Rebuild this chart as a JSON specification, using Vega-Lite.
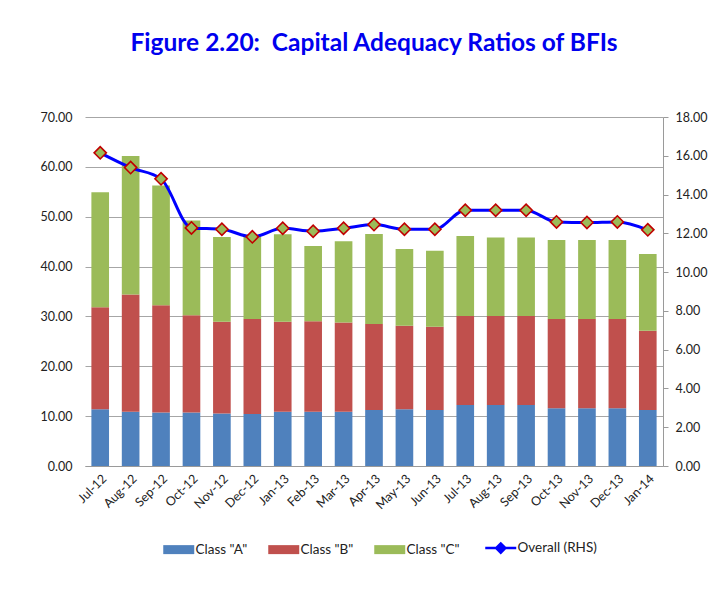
{
  "$schema": "https://vega.github.io/schema/vega-lite/v6.json",
  "width": 578,
  "height": 349,
  "autosize": {"type": "none"},
  "padding": {"left": 85, "top": 117, "right": 65, "bottom": 125},
  "background": "white",
  "title": {
    "text": "Figure 2.20:\u00a0 Capital Adequacy Ratios of BFIs",
    "font": "Lato",
    "fontSize": 24.5,
    "fontWeight": "bold",
    "color": "#0000EE",
    "anchor": "middle",
    "frame": "group",
    "offset": 55
  },
  "datasets": {
    "bars": [
      {"m": "Jul-12", "cls": "Class \"A\"", "o": 1, "v": 11.36},
      {"m": "Jul-12", "cls": "Class \"B\"", "o": 2, "v": 20.50},
      {"m": "Jul-12", "cls": "Class \"C\"", "o": 3, "v": 23.04},
      {"m": "Aug-12", "cls": "Class \"A\"", "o": 1, "v": 10.90},
      {"m": "Aug-12", "cls": "Class \"B\"", "o": 2, "v": 23.50},
      {"m": "Aug-12", "cls": "Class \"C\"", "o": 3, "v": 27.80},
      {"m": "Sep-12", "cls": "Class \"A\"", "o": 1, "v": 10.75},
      {"m": "Sep-12", "cls": "Class \"B\"", "o": 2, "v": 21.50},
      {"m": "Sep-12", "cls": "Class \"C\"", "o": 3, "v": 24.00},
      {"m": "Oct-12", "cls": "Class \"A\"", "o": 1, "v": 10.75},
      {"m": "Oct-12", "cls": "Class \"B\"", "o": 2, "v": 19.50},
      {"m": "Oct-12", "cls": "Class \"C\"", "o": 3, "v": 19.00},
      {"m": "Nov-12", "cls": "Class \"A\"", "o": 1, "v": 10.55},
      {"m": "Nov-12", "cls": "Class \"B\"", "o": 2, "v": 18.40},
      {"m": "Nov-12", "cls": "Class \"C\"", "o": 3, "v": 17.00},
      {"m": "Dec-12", "cls": "Class \"A\"", "o": 1, "v": 10.42},
      {"m": "Dec-12", "cls": "Class \"B\"", "o": 2, "v": 19.05},
      {"m": "Dec-12", "cls": "Class \"C\"", "o": 3, "v": 16.60},
      {"m": "Jan-13", "cls": "Class \"A\"", "o": 1, "v": 10.90},
      {"m": "Jan-13", "cls": "Class \"B\"", "o": 2, "v": 18.05},
      {"m": "Jan-13", "cls": "Class \"C\"", "o": 3, "v": 17.55},
      {"m": "Feb-13", "cls": "Class \"A\"", "o": 1, "v": 10.90},
      {"m": "Feb-13", "cls": "Class \"B\"", "o": 2, "v": 18.15},
      {"m": "Feb-13", "cls": "Class \"C\"", "o": 3, "v": 15.10},
      {"m": "Mar-13", "cls": "Class \"A\"", "o": 1, "v": 10.90},
      {"m": "Mar-13", "cls": "Class \"B\"", "o": 2, "v": 17.90},
      {"m": "Mar-13", "cls": "Class \"C\"", "o": 3, "v": 16.30},
      {"m": "Apr-13", "cls": "Class \"A\"", "o": 1, "v": 11.22},
      {"m": "Apr-13", "cls": "Class \"B\"", "o": 2, "v": 17.25},
      {"m": "Apr-13", "cls": "Class \"C\"", "o": 3, "v": 18.05},
      {"m": "May-13", "cls": "Class \"A\"", "o": 1, "v": 11.36},
      {"m": "May-13", "cls": "Class \"B\"", "o": 2, "v": 16.75},
      {"m": "May-13", "cls": "Class \"C\"", "o": 3, "v": 15.40},
      {"m": "Jun-13", "cls": "Class \"A\"", "o": 1, "v": 11.22},
      {"m": "Jun-13", "cls": "Class \"B\"", "o": 2, "v": 16.70},
      {"m": "Jun-13", "cls": "Class \"C\"", "o": 3, "v": 15.25},
      {"m": "Jul-13", "cls": "Class \"A\"", "o": 1, "v": 12.22},
      {"m": "Jul-13", "cls": "Class \"B\"", "o": 2, "v": 17.85},
      {"m": "Jul-13", "cls": "Class \"C\"", "o": 3, "v": 16.05},
      {"m": "Aug-13", "cls": "Class \"A\"", "o": 1, "v": 12.22},
      {"m": "Aug-13", "cls": "Class \"B\"", "o": 2, "v": 17.85},
      {"m": "Aug-13", "cls": "Class \"C\"", "o": 3, "v": 15.75},
      {"m": "Sep-13", "cls": "Class \"A\"", "o": 1, "v": 12.22},
      {"m": "Sep-13", "cls": "Class \"B\"", "o": 2, "v": 17.85},
      {"m": "Sep-13", "cls": "Class \"C\"", "o": 3, "v": 15.75},
      {"m": "Oct-13", "cls": "Class \"A\"", "o": 1, "v": 11.56},
      {"m": "Oct-13", "cls": "Class \"B\"", "o": 2, "v": 17.90},
      {"m": "Oct-13", "cls": "Class \"C\"", "o": 3, "v": 15.85},
      {"m": "Nov-13", "cls": "Class \"A\"", "o": 1, "v": 11.56},
      {"m": "Nov-13", "cls": "Class \"B\"", "o": 2, "v": 17.90},
      {"m": "Nov-13", "cls": "Class \"C\"", "o": 3, "v": 15.85},
      {"m": "Dec-13", "cls": "Class \"A\"", "o": 1, "v": 11.56},
      {"m": "Dec-13", "cls": "Class \"B\"", "o": 2, "v": 17.90},
      {"m": "Dec-13", "cls": "Class \"C\"", "o": 3, "v": 15.85},
      {"m": "Jan-14", "cls": "Class \"A\"", "o": 1, "v": 11.22},
      {"m": "Jan-14", "cls": "Class \"B\"", "o": 2, "v": 15.90},
      {"m": "Jan-14", "cls": "Class \"C\"", "o": 3, "v": 15.40}
    ],
    "overall": [
      {"m": "Jul-12", "v": 16.15},
      {"m": "Aug-12", "v": 15.39},
      {"m": "Sep-12", "v": 14.81},
      {"m": "Oct-12", "v": 12.28},
      {"m": "Nov-12", "v": 12.21},
      {"m": "Dec-12", "v": 11.82},
      {"m": "Jan-13", "v": 12.26},
      {"m": "Feb-13", "v": 12.11},
      {"m": "Mar-13", "v": 12.26},
      {"m": "Apr-13", "v": 12.45},
      {"m": "May-13", "v": 12.21},
      {"m": "Jun-13", "v": 12.21},
      {"m": "Jul-13", "v": 13.19},
      {"m": "Aug-13", "v": 13.19},
      {"m": "Sep-13", "v": 13.19},
      {"m": "Oct-13", "v": 12.59},
      {"m": "Nov-13", "v": 12.56},
      {"m": "Dec-13", "v": 12.59},
      {"m": "Jan-14", "v": 12.18}
    ]
  },
  "encoding": {
    "x": {
      "field": "m",
      "type": "ordinal",
      "sort": null,
      "title": null,
      "scale": {"paddingInner": 0.42, "paddingOuter": 0.21},
      "axis": {
        "labelAngle": -45,
        "labelFont": "Lato",
        "labelFontSize": 12.5,
        "labelColor": "#222222",
        "domainColor": "#9a9a9a",
        "ticks": false,
        "labelPadding": 6
      }
    }
  },
  "layer": [
    {
      "data": {"name": "bars"},
      "mark": {"type": "bar"},
      "encoding": {
        "y": {
          "field": "v",
          "type": "quantitative",
          "stack": "zero",
          "title": null,
          "scale": {"domain": [0, 70], "nice": false},
          "axis": {
            "values": [0, 10, 20, 30, 40, 50, 60, 70],
            "format": ".2f",
            "domain": false,
            "ticks": false,
            "grid": true,
            "gridColor": "#a6a6a6",
            "labelOverlap": false,
            "labelFont": "Lato",
            "labelFontSize": 12.5,
            "labelColor": "#222222",
            "labelPadding": 13
          }
        },
        "order": {"field": "o", "type": "quantitative"},
        "color": {
          "field": "cls",
          "type": "nominal",
          "scale": {
            "domain": ["Class \"A\"", "Class \"B\"", "Class \"C\"", "Overall (RHS)"],
            "range": ["#4F81BD", "#C0504D", "#9BBB59", "#0000FF"]
          },
          "legend": {
            "orient": "none",
            "legendX": 87,
            "legendY": 424,
            "direction": "horizontal",
            "title": null,
            "symbolSize": 961,
            "symbolType": "M-1,-0.29H1V0.29H-1Z",
            "labelFont": "Lato",
            "labelFontSize": 13.5,
            "labelColor": "#222222",
            "labelOffset": 10,
            "columnPadding": 20,
            "encode": {
              "symbols": {
                "update": {
                  "shape": {"signal": "datum.value === 'Overall (RHS)' ? 'M-1,0H1M-0.3,0L0,-0.3L0.3,0L0,0.3Z' : 'M-1,-0.29H1V0.29H-1Z'"},
                  "strokeWidth": {"signal": "datum.value === 'Overall (RHS)' ? 2.5 : 0"},
                  "stroke": {"signal": "datum.value === 'Overall (RHS)' ? '#0000FF' : 'transparent'"},
                  "fill": {"signal": "datum.value === 'Overall (RHS)' ? '#9BBB59' : scale('color', datum.value)"}
                }
              }
            }
          }
        }
      }
    },
    {
      "data": {"name": "overall"},
      "encoding": {
        "y": {
          "field": "v",
          "type": "quantitative",
          "title": null,
          "scale": {"domain": [0, 18], "nice": false},
          "axis": {
            "orient": "right",
            "values": [0, 2, 4, 6, 8, 10, 12, 14, 16, 18],
            "format": ".2f",
            "grid": false,
            "domain": true,
            "domainColor": "#9a9a9a",
            "ticks": true,
            "tickColor": "#9a9a9a",
            "tickSize": 5,
            "labelOverlap": false,
            "labelFont": "Lato",
            "labelFontSize": 12.5,
            "labelColor": "#222222",
            "labelPadding": 7
          }
        }
      },
      "layer": [
        {
          "mark": {"type": "line", "strokeWidth": 3, "interpolate": "monotone"},
          "encoding": {
            "color": {"datum": "Overall (RHS)"}
          }
        },
        {
          "mark": {"type": "point", "shape": "diamond", "filled": true, "size": 150, "fill": "#9BBB59", "stroke": "#C00000", "strokeWidth": 1.6, "opacity": 1}
        }
      ]
    }
  ],
  "resolve": {"scale": {"y": "independent"}},
  "config": {
    "view": {"stroke": null}
  }
}
